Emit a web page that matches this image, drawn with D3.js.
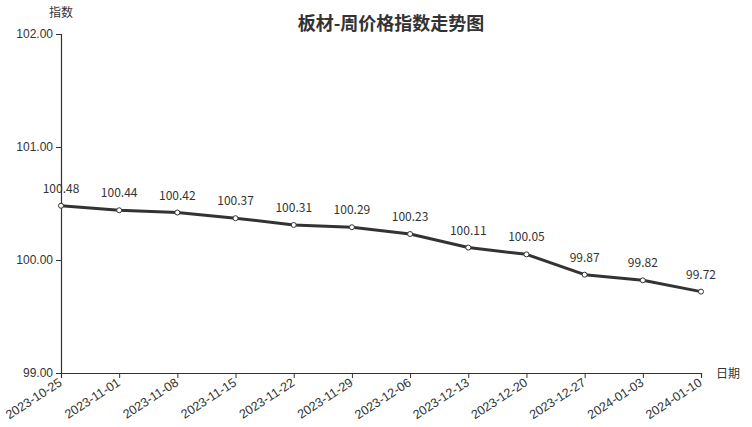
<!DOCTYPE html>
<html><head><meta charset="utf-8">
<script src="https://cdn.jsdelivr.net/npm/d3@7"></script>
<style>body{margin:0;background:#fff;}svg{font-family:"Noto Sans CJK SC","Noto Sans",sans-serif;}</style>
</head><body>
<svg id="c" width="752" height="427"></svg>
<script>
const dates = ["2023-10-25","2023-11-01","2023-11-08","2023-11-15","2023-11-22","2023-11-29","2023-12-06","2023-12-13","2023-12-20","2023-12-27","2024-01-03","2024-01-10"];
const values = [100.48,100.44,100.42,100.37,100.31,100.29,100.23,100.11,100.05,99.87,99.82,99.72];
const yTicks = [99,100,101,102];
const title = "板材-周价格指数走势图";
const yName = "指数", xName = "日期";

const svg = d3.select("#c");
const L=61,R=701,T=34,B=373;
const x = d3.scalePoint().domain(dates).range([L,R]);
const y = d3.scaleLinear().domain([99,102]).range([B,T]);
const col="#333";

svg.append("text").attr("x",391).attr("y",30).attr("text-anchor","middle")
  .attr("font-size",18).attr("font-weight","bold").attr("fill",col).text(title);

const ya = svg.append("g").attr("transform",`translate(${L},0)`)
  .call(d3.axisLeft(y).tickValues(yTicks).tickFormat(d3.format(".2f")).tickSize(5).tickPadding(3));
ya.select(".domain").attr("stroke",col).attr("stroke-width",1.2);
ya.selectAll(".tick line").attr("stroke",col);
ya.selectAll("text").attr("font-size",12).attr("fill",col).attr("font-family","inherit");

const xa = svg.append("g").attr("transform",`translate(0,${B})`)
  .call(d3.axisBottom(x).tickSize(5).tickPadding(3));
xa.select(".domain").attr("stroke",col).attr("stroke-width",1.2);
xa.selectAll(".tick line").attr("stroke",col);
xa.selectAll("text").attr("font-size",12.5).attr("fill",col).attr("font-family","inherit")
  .attr("text-anchor","end").attr("x",0).attr("y",0).attr("dy","0.35em")
  .attr("transform","translate(-1,8) rotate(-33)");

svg.append("text").attr("x",61).attr("y",17).attr("text-anchor","middle").attr("font-size",12).attr("fill",col).text(yName);
svg.append("text").attr("x",716).attr("y",378).attr("font-size",12).attr("fill",col).text(xName);

const line = d3.line().x((d,i)=>x(dates[i])).y(d=>y(d));
svg.append("path").datum(values).attr("d",line).attr("fill","none").attr("stroke",col).attr("stroke-width",3).attr("stroke-linejoin","round");
svg.selectAll("circle.p").data(values).enter().append("circle")
  .attr("cx",(d,i)=>x(dates[i])).attr("cy",d=>y(d)).attr("r",2.5)
  .attr("fill","#fff").attr("stroke",col).attr("stroke-width",1);
svg.selectAll("text.l").data(values).enter().append("text")
  .attr("x",(d,i)=>x(dates[i])).attr("y",d=>y(d)-13).attr("text-anchor","middle")
  .attr("font-size",12).attr("fill",col).text(d=>d.toFixed(2));
</script>
</body></html>
